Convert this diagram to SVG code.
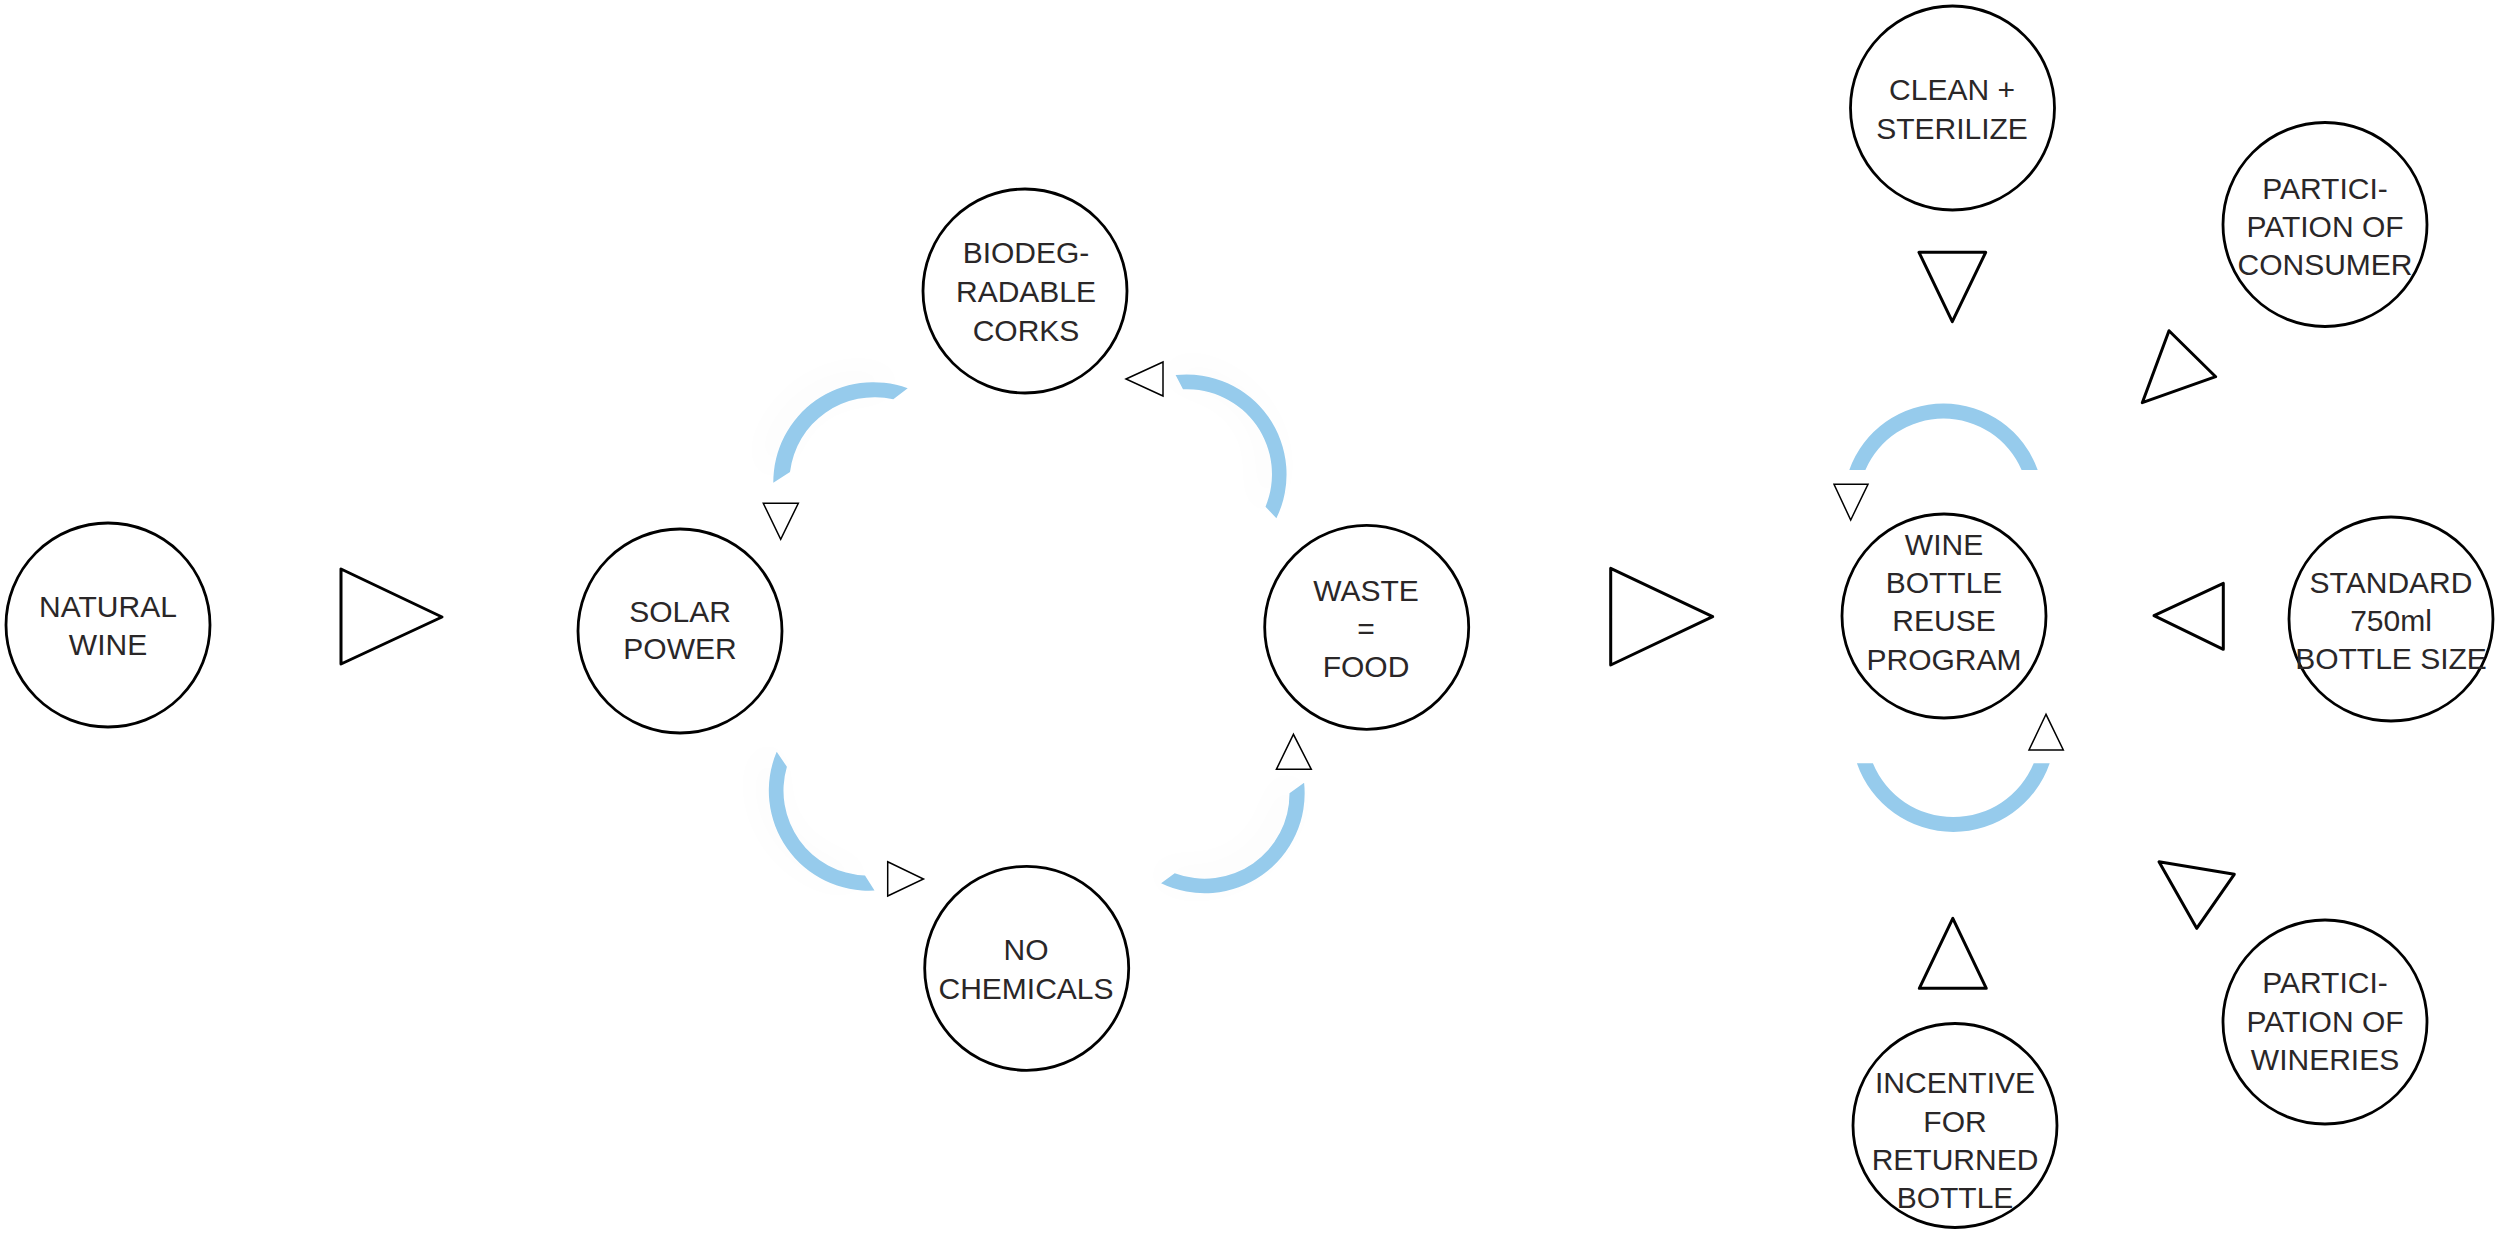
<svg xmlns="http://www.w3.org/2000/svg" width="2495" height="1234" viewBox="0 0 2495 1234">
  <style>
    .node circle { fill: #ffffff; stroke: #000000; stroke-width: 2.8; }
    .node text { font-family: "Liberation Sans", Arial, sans-serif; font-size: 30px; fill: #2a2728; text-anchor: middle; }
    .big { fill: #ffffff; stroke: #000000; stroke-width: 3; stroke-linejoin: round; }
    .small { fill: #ffffff; stroke: #000000; stroke-width: 1.5; stroke-linejoin: miter; }
    .loop { fill: #96cbec; }
  </style>
  <defs>
    <!-- very faint soft halo behind the cycle arcs -->
    <filter id="halo" x="-50%" y="-50%" width="200%" height="200%">
      <feGaussianBlur in="SourceAlpha" stdDeviation="18" result="b"/>
      <feOffset dx="-10" dy="-8" in="b" result="o"/>
      <feComponentTransfer in="o" result="f">
        <feFuncA type="linear" slope="0.03"/>
      </feComponentTransfer>
      <feMerge>
        <feMergeNode in="f"/>
        <feMergeNode in="SourceGraphic"/>
      </feMerge>
    </filter>
  </defs>

  <rect width="2495" height="1234" fill="#ffffff"/>

  <!-- connectors: flow arrows and cycle arcs -->
  <g id="connectors">
    <!-- cycle arcs around the winemaking loop -->
    <g filter="url(#halo)">
      <path class="loop" d="M773.3,482.7 A100,100 0 0 1 907.7,388.3 L893.3,399.3 A85,85 0 0 0 790,472 Z"/>
      <path class="loop" d="M1175.6,375 A100,100 0 0 1 1276.4,518.3 L1265.5,506.7 A85,85 0 0 0 1183,389.3 Z"/>
      <path class="loop" d="M776.7,751.7 A100,100 0 0 0 874.5,890.5 L865,875.5 A85,85 0 0 1 786.9,766.7 Z"/>
      <path class="loop" d="M1304.1,782.7 A100,100 0 0 1 1161.1,883.3 L1174.7,873.3 A85,85 0 0 0 1289.5,793.3 Z"/>
    </g>
    <!-- arcs around the bottle reuse program -->
    <path class="loop" d="M1849.3,470 A100,100 0 0 1 2037.7,470 L2021.6,470 A85,85 0 0 0 1865.4,470 Z"/>
    <path class="loop" d="M1856.9,763.3 A102,102 0 0 0 2049.7,763.3 L2033.7,763.3 A87,87 0 0 1 1872.9,763.3 Z"/>

    <!-- small direction marks on the loops -->
    <polygon class="small" points="1126,379 1163,362 1163,396"/>
    <polygon class="small" points="763.3,503.3 798.3,503.3 780.7,539.3"/>
    <polygon class="small" points="887.7,861.7 887.7,896 923.5,879"/>
    <polygon class="small" points="1293.4,734.3 1276.4,769.3 1311.3,769.3"/>
    <polygon class="small" points="1834,484.3 1868,484.3 1850.7,520"/>
    <polygon class="small" points="2046,714.3 2029,750 2063.3,750"/>

    <!-- main flow arrows -->
    <polygon class="big" points="341,569 341,664 442,617"/>
    <polygon class="big" points="1610.7,568.3 1610.7,665 1712.7,616.7"/>

    <!-- arrows around the bottle reuse program -->
    <polygon class="big" points="1919,252.3 1985.7,252.3 1952.3,321.7" stroke-width="2.5"/>
    <polygon class="big" points="2169,330.7 2215.7,376.7 2142.3,402.7" stroke-width="2.2"/>
    <polygon class="big" points="2154,615.7 2223.3,583.3 2223.3,649.3" stroke-width="2.2"/>
    <polygon class="big" points="2159,861.7 2234.3,874.3 2196.7,928.3" stroke-width="2.2"/>
    <polygon class="big" points="1952.8,918.3 1919.3,988.3 1986.3,988.3" stroke-width="2.2"/>
  </g>

  <!-- nodes -->
  <g id="natural-wine" class="node">
    <circle cx="108" cy="625" r="102"/>
    <text><tspan x="108" y="617">NATURAL</tspan><tspan x="108" y="655">WINE</tspan></text>
  </g>
  <g id="solar-power" class="node">
    <circle cx="680" cy="631" r="102"/>
    <text><tspan x="680" y="622">SOLAR</tspan><tspan x="680" y="659">POWER</tspan></text>
  </g>
  <g id="corks" class="node">
    <circle cx="1025" cy="291" r="102"/>
    <text><tspan x="1026" y="263">BIODEG-</tspan><tspan x="1026" y="302">RADABLE</tspan><tspan x="1026" y="341">CORKS</tspan></text>
  </g>
  <g id="waste-food" class="node">
    <circle cx="1366.7" cy="627.3" r="102"/>
    <text><tspan x="1366" y="601">WASTE</tspan><tspan x="1366" y="639">=</tspan><tspan x="1366" y="677">FOOD</tspan></text>
  </g>
  <g id="no-chemicals" class="node">
    <circle cx="1026.7" cy="968.3" r="102"/>
    <text><tspan x="1026" y="960">NO</tspan><tspan x="1026" y="999">CHEMICALS</tspan></text>
  </g>
  <g id="clean-sterilize" class="node">
    <circle cx="1952.5" cy="108" r="102"/>
    <text><tspan x="1952" y="100">CLEAN +</tspan><tspan x="1952" y="139">STERILIZE</tspan></text>
  </g>
  <g id="reuse-program" class="node">
    <circle cx="1944" cy="616" r="102"/>
    <text><tspan x="1944" y="555">WINE</tspan><tspan x="1944" y="593">BOTTLE</tspan><tspan x="1944" y="631">REUSE</tspan><tspan x="1944" y="670">PROGRAM</tspan></text>
  </g>
  <g id="consumer" class="node">
    <circle cx="2325" cy="224.5" r="102"/>
    <text><tspan x="2325" y="199">PARTICI-</tspan><tspan x="2325" y="237">PATION OF</tspan><tspan x="2325" y="275">CONSUMER</tspan></text>
  </g>
  <g id="bottle-size" class="node">
    <circle cx="2391" cy="619" r="102"/>
    <text><tspan x="2391" y="593">STANDARD</tspan><tspan x="2391" y="631">750ml</tspan><tspan x="2391" y="669">BOTTLE SIZE</tspan></text>
  </g>
  <g id="wineries" class="node">
    <circle cx="2325" cy="1022" r="102"/>
    <text><tspan x="2325" y="993">PARTICI-</tspan><tspan x="2325" y="1032">PATION OF</tspan><tspan x="2325" y="1070">WINERIES</tspan></text>
  </g>
  <g id="incentive" class="node">
    <circle cx="1955" cy="1125.5" r="102"/>
    <text><tspan x="1955" y="1093">INCENTIVE</tspan><tspan x="1955" y="1132">FOR</tspan><tspan x="1955" y="1170">RETURNED</tspan><tspan x="1955" y="1208">BOTTLE</tspan></text>
  </g>
</svg>
